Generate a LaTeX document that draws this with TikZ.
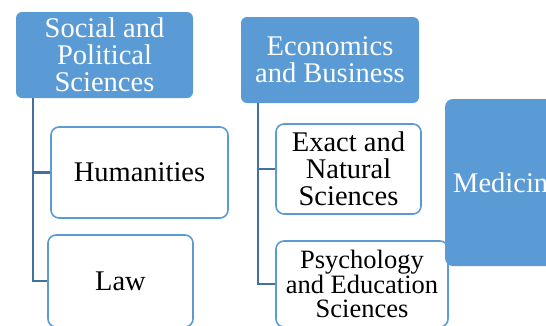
\documentclass[tikz,border=0pt]{standalone}
\usepackage{fontspec}
\setmainfont{Liberation Serif}
\usetikzlibrary{shapes,arrows}
\definecolor{bleu}{HTML}{5B9BD5}
\definecolor{bleufonce}{HTML}{41719C}
\begin{document}
\begin{tikzpicture}[x=1pt,y=-1pt]
%styles des nœuds
\tikzstyle{domaine}=[rectangle,fill=bleu,text=white,align=center,inner sep=0pt,
rounded corners=6pt,font=\fontsize{28.5}{27}\selectfont]
\tikzstyle{filiere}=[rectangle,draw=bleu,line width=1.6pt,fill=white,align=center,
inner sep=0pt,rounded corners=8pt,font=\fontsize{28.5}{27}\selectfont]
%style des liens
\tikzstyle{lien}=[draw=bleufonce,line width=2.4pt]
\useasboundingbox (0,0) rectangle (546,325);
\clip (0,0) rectangle (546,325);
%placement des nœuds
\node[domaine,minimum width=177pt,minimum height=86pt] (social) at (104.5,55) {Social and\\Political\\Sciences};
\node[filiere,minimum width=177pt,minimum height=91pt] (humanites) at (139.5,172.5) {Humanities};
\node[filiere,minimum width=145pt,minimum height=92pt] (droit) at (120.5,281) {Law};
\node[domaine,minimum width=178pt,minimum height=86pt] (economie) at (330,60) {Economics\\and Business};
\node[filiere,minimum width=145pt,minimum height=90pt] (exactes) at (348.5,169) {Exact and\\Natural\\Sciences};
\node[filiere,minimum width=172pt,minimum height=86pt,font=\fontsize{26.5}{24}\selectfont] (psycho) at (362,284) {Psychology\\and Education\\Sciences};
\node[domaine,rounded corners=8pt,minimum width=124pt,minimum height=167pt] (medecine) at (507,182.5) {Medicine};
%placement des liens
\draw[lien] ([xshift=17pt]social.south west) |- (humanites.west);
\draw[lien] ([xshift=17pt]social.south west) |- (droit.west);
\draw[lien] ([xshift=17pt]economie.south west) |- (exactes.west);
\draw[lien] ([xshift=17pt]economie.south west) |- (psycho.west);
\end{tikzpicture}
\end{document}
